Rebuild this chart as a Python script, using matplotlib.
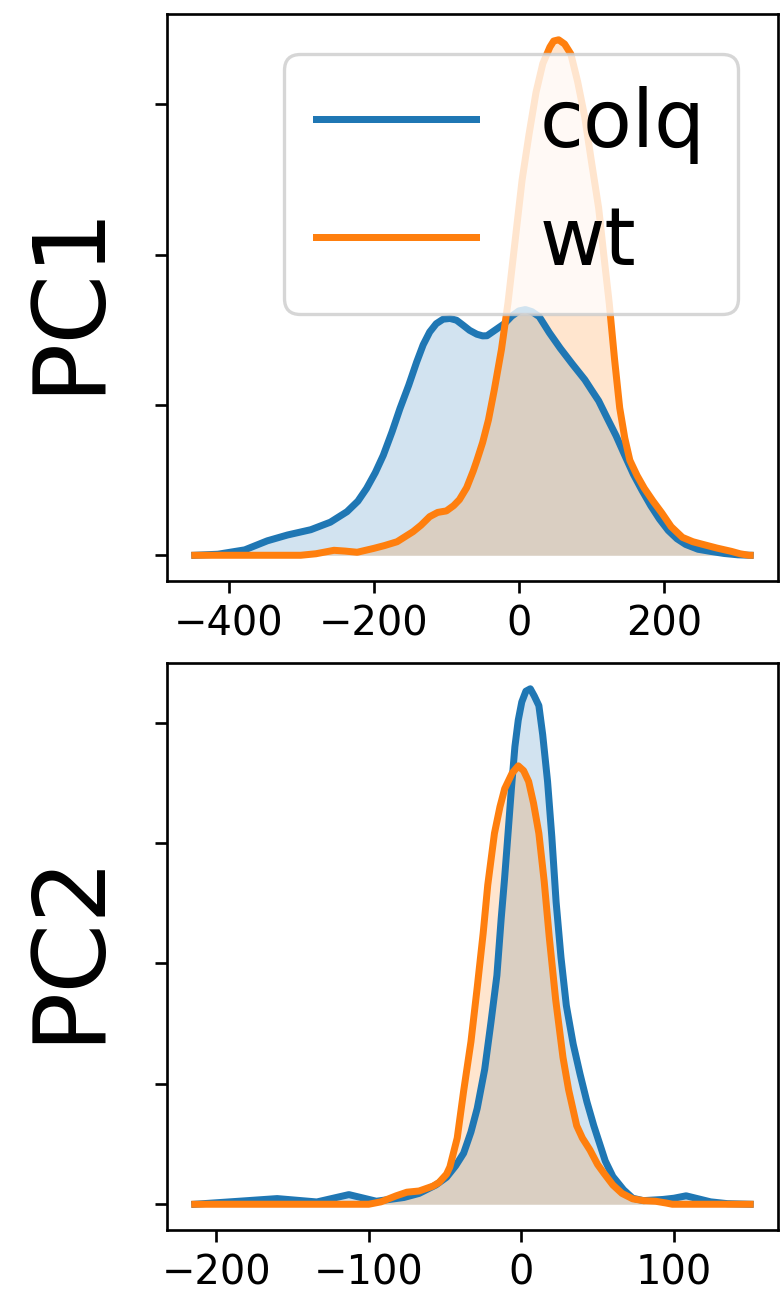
import matplotlib.pyplot as plt

# PC1 density curves (x, density in tick units)
pc1_colq_x = [-447, -415, -378, -347, -319, -287, -260, -237, -222, -210, -198, -187, -175, -164, -152, -141, -132, -123, -114, -104.5, -95, -86, -77, -68, -58, -50, -44, -32, -20, -10, 0, 9, 18, 28, 42, 57, 74, 91, 100, 110, 122, 134, 146, 158, 170, 182, 194, 206, 218, 230, 247, 264, 283, 302, 319]
pc1_colq_y = [0, 0.007, 0.036, 0.096, 0.135, 0.17, 0.22, 0.29, 0.36, 0.445, 0.55, 0.665, 0.82, 0.976, 1.13, 1.285, 1.40, 1.485, 1.54, 1.57, 1.575, 1.563, 1.53, 1.496, 1.47, 1.459, 1.46, 1.50, 1.54, 1.59, 1.625, 1.634, 1.62, 1.587, 1.48, 1.377, 1.27, 1.167, 1.10, 1.027, 0.91, 0.795, 0.665, 0.538, 0.43, 0.329, 0.24, 0.165, 0.11, 0.072, 0.04, 0.026, 0.012, 0.003, 0]
pc1_wt_x = [-447, -301, -280, -255, -240, -223, -200, -185, -168, -146, -135, -123, -112, -100, -90, -82, -72, -63, -58, -50, -42, -34, -24, -15, -5, 4.4, 14, 23.6, 33, 42.8, 48, 54.8, 63, 71.6, 81, 90.8, 100, 110, 117, 124.5, 132, 139, 146, 153, 163, 173, 185, 197, 210, 225.5, 240, 254, 273, 293, 305, 317, 319]
pc1_wt_y = [0, 0, 0.01, 0.033, 0.028, 0.02, 0.046, 0.065, 0.09, 0.157, 0.20, 0.257, 0.285, 0.295, 0.33, 0.37, 0.45, 0.56, 0.63, 0.75, 0.90, 1.098, 1.37, 1.68, 2.10, 2.495, 2.80, 3.078, 3.27, 3.38, 3.42, 3.428, 3.40, 3.334, 3.15, 2.915, 2.62, 2.309, 2.0, 1.68, 1.30, 0.981, 0.78, 0.632, 0.53, 0.445, 0.36, 0.282, 0.19, 0.119, 0.09, 0.072, 0.048, 0.026, 0.01, 0, 0]

# PC2 density curves
pc2_colq_x = [-214, -185, -160, -134, -113, -95, -77, -67, -56, -49, -43, -37.8, -33, -28.9, -24, -19.9, -16, -13.2, -11, -8.7, -6.5, -4.2, -2, 0.3, 3, 5.9, 8.5, 11.5, 14, 17.2, 20, 22.8, 26, 29.5, 34, 38.5, 43, 47.5, 55, 60, 67, 73, 80, 93, 100, 108, 116, 124, 135, 150]
pc2_colq_y = [0, 0.025, 0.047, 0.019, 0.08, 0.025, 0.056, 0.09, 0.16, 0.224, 0.32, 0.424, 0.60, 0.796, 1.12, 1.51, 1.90, 2.37, 2.70, 3.08, 3.45, 3.80, 4.02, 4.17, 4.26, 4.28, 4.22, 4.14, 3.90, 3.51, 3.05, 2.51, 2.05, 1.65, 1.33, 1.08, 0.85, 0.652, 0.36, 0.23, 0.12, 0.05, 0.03, 0.04, 0.05, 0.07, 0.045, 0.02, 0.005, 0]
pc2_wt_x = [-214, -100, -92, -82, -75, -67, -58, -54, -49, -46.8, -42, -37.8, -33, -28.9, -25, -22, -17.6, -14, -10.9, -6, -2, 1.5, 4.8, 8, 11.5, 15, 18.3, 22.5, 27.3, 31, 36.3, 40, 45, 50, 54, 60, 66, 73, 80, 88, 95, 99, 150]
pc2_wt_y = [0, 0, 0.02, 0.07, 0.10, 0.11, 0.15, 0.18, 0.25, 0.31, 0.55, 0.94, 1.35, 1.80, 2.25, 2.65, 3.08, 3.30, 3.45, 3.58, 3.64, 3.60, 3.51, 3.33, 3.08, 2.68, 2.22, 1.70, 1.22, 0.95, 0.652, 0.55, 0.45, 0.33, 0.26, 0.16, 0.09, 0.045, 0.03, 0.025, 0.01, 0, 0]

fig = plt.figure(figsize=(3.25, 5.4125), dpi=240)
ax1 = fig.add_axes([0.2141, 0.5527, 0.7833, 0.4365])
ax2 = fig.add_axes([0.2141, 0.0531, 0.7833, 0.4365])

for ax, curves, label, yt in [
    (ax1, [(pc1_colq_x, pc1_colq_y), (pc1_wt_x, pc1_wt_y)], 'PC1', [0, 1, 2, 3]),
    (ax2, [(pc2_colq_x, pc2_colq_y), (pc2_wt_x, pc2_wt_y)], 'PC2', [0, 1, 2, 3, 4]),
]:
    for (x, y), c, name in zip(curves, ['tab:blue', 'tab:orange'], ['colq', 'wt']):
        ax.fill_between(x, y, color=c, alpha=0.2, linewidth=0)
        ax.plot(x, y, color=c, label=name, linewidth=2.1)
    ax.set_yticks(yt)
    ax.set_yticklabels([])
    ax.tick_params(labelsize=12)
    ax.set_ylabel(label, fontsize=30, labelpad=8)

ax1.set_xticks([-400, -200, 0, 200])
ax2.set_xticks([-200, -100, 0, 100])
ax1.legend(fontsize=24, loc='upper right')

fig.savefig('out.png', dpi=240)
